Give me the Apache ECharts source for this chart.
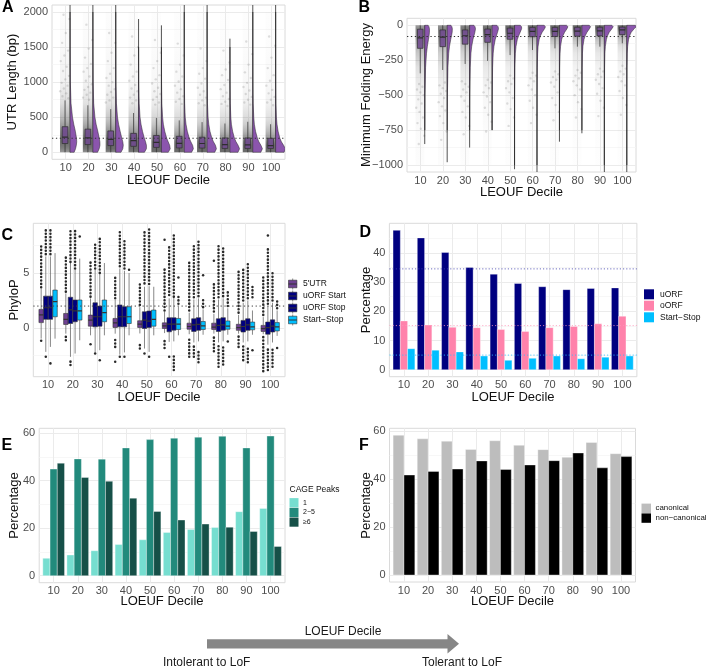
<!DOCTYPE html>
<html>
<head>
<meta charset="utf-8">
<title>LOEUF deciles</title>
<script src="https://cdn.jsdelivr.net/npm/echarts@6.0.0/dist/echarts.min.js"></script>
<style>
html,body{margin:0;padding:0;background:#ffffff;}
#chart{width:708px;height:672px;}
</style>
</head>
<body>
<div id="chart"></div>
<script>
// ================= DATA =================
const deciles = [10, 20, 30, 40, 50, 60, 70, 80, 90, 100];

// ---- A: 5'UTR length ----
const utrTicks = [0, 500, 1000, 1500, 2000];
const utrMinorTicks = [250, 750, 1250, 1750];
const utrLevels = [0, 50, 100, 150, 200, 300, 400, 500, 700, 1000, 1500, 2000];
const utrDensity = [
  [0.42, 0.56, 0.64, 0.68, 0.66, 0.54, 0.38, 0.25, 0.10, 0.030, 0.010, 0.004],
  [0.48, 0.64, 0.72, 0.71, 0.65, 0.50, 0.33, 0.21, 0.08, 0.025, 0.008, 0.003],
  [0.54, 0.72, 0.77, 0.72, 0.62, 0.45, 0.29, 0.18, 0.07, 0.020, 0.007, 0.003],
  [0.60, 0.80, 0.80, 0.71, 0.59, 0.40, 0.25, 0.15, 0.06, 0.018, 0.006, 0.002],
  [0.70, 0.90, 0.84, 0.69, 0.54, 0.34, 0.20, 0.12, 0.045, 0.014, 0.005, 0.002],
  [0.75, 0.93, 0.85, 0.67, 0.51, 0.31, 0.18, 0.10, 0.040, 0.013, 0.005, 0.002],
  [0.78, 0.95, 0.85, 0.65, 0.49, 0.29, 0.17, 0.10, 0.035, 0.012, 0.004, 0.002],
  [0.82, 0.98, 0.83, 0.62, 0.46, 0.27, 0.15, 0.09, 0.030, 0.010, 0.004, 0.001],
  [0.82, 0.98, 0.83, 0.62, 0.47, 0.28, 0.16, 0.10, 0.035, 0.012, 0.005, 0.002],
  [0.86, 1.00, 0.81, 0.59, 0.43, 0.25, 0.14, 0.08, 0.030, 0.010, 0.004, 0.002]
];
// [lower whisker, Q1, median, Q3, upper whisker]
const utrBox = [
  [0, 125, 215, 365, 740],
  [0, 110, 205, 330, 670],
  [0, 95, 185, 305, 615],
  [0, 85, 165, 270, 560],
  [0, 70, 140, 240, 490],
  [0, 62, 128, 228, 455],
  [0, 60, 125, 215, 430],
  [0, 55, 110, 205, 410],
  [0, 55, 105, 205, 435],
  [0, 55, 95, 200, 400]
];
const utrMax = [2600, 2450, 2300, 1900, 1810, 2400, 2250, 1620, 2700, 2500];
const utrTail = [
  [1960, 1900, 1700, 1560, 1450, 1380, 1300, 1220, 1160, 1090, 1040, 990, 950, 910, 870, 840, 800, 770],
  [1820, 1600, 1480, 1350, 1260, 1200, 1150, 1080, 1020, 970, 930, 890, 850, 820, 780, 750],
  [1700, 1560, 1420, 1300, 1200, 1120, 1060, 1000, 950, 900, 860, 820, 780, 740, 710],
  [1650, 1500, 1380, 1250, 1150, 1080, 1020, 960, 910, 870, 820, 780, 740, 700],
  [1600, 1420, 1300, 1200, 1100, 1040, 980, 920, 870, 830, 790, 750, 710, 680],
  [1550, 1380, 1250, 1150, 1080, 1010, 950, 900, 850, 800, 760, 720, 690],
  [1480, 1300, 1200, 1120, 1050, 980, 920, 870, 820, 780, 740, 700, 670],
  [1450, 1280, 1180, 1100, 1030, 960, 900, 850, 800, 760, 720, 690, 660],
  [1580, 1400, 1250, 1140, 1060, 990, 930, 880, 830, 790, 750, 710, 680],
  [1650, 1520, 1350, 1200, 1100, 1020, 950, 890, 840, 790, 750, 710, 670]
];
const utrRef = 200;

// ---- B: minimum folding energy ----
const mfeTicks = [0, -250, -500, -750, -1000];
const mfeMinorTicks = [-125, -375, -625, -875];
const mfeLevels = [0, -10, -25, -50, -75, -100, -150, -200, -300, -500, -750, -1000];
const mfeDensity = [
  [0.36, 0.45, 0.50, 0.50, 0.46, 0.40, 0.28, 0.19, 0.090, 0.025, 0.008, 0.003],
  [0.40, 0.50, 0.55, 0.53, 0.46, 0.38, 0.25, 0.16, 0.080, 0.020, 0.007, 0.003],
  [0.45, 0.57, 0.62, 0.56, 0.46, 0.36, 0.22, 0.14, 0.065, 0.018, 0.006, 0.002],
  [0.50, 0.64, 0.68, 0.58, 0.46, 0.34, 0.20, 0.12, 0.055, 0.015, 0.005, 0.002],
  [0.60, 0.75, 0.75, 0.60, 0.44, 0.30, 0.16, 0.09, 0.040, 0.012, 0.004, 0.002],
  [0.75, 0.90, 0.80, 0.55, 0.37, 0.24, 0.12, 0.07, 0.030, 0.010, 0.004, 0.002],
  [0.75, 0.90, 0.80, 0.55, 0.37, 0.24, 0.12, 0.07, 0.030, 0.010, 0.004, 0.002],
  [0.78, 0.92, 0.80, 0.54, 0.35, 0.23, 0.11, 0.06, 0.028, 0.009, 0.003, 0.001],
  [0.80, 0.94, 0.80, 0.52, 0.34, 0.22, 0.11, 0.06, 0.028, 0.009, 0.003, 0.001],
  [0.90, 1.00, 0.78, 0.47, 0.30, 0.19, 0.09, 0.05, 0.022, 0.007, 0.003, 0.001]
];
const mfeBox = [
  [-344, -165, -90, -28, 0],
  [-320, -153, -85, -33, 0],
  [-277, -135, -75, -33, 0],
  [-255, -122, -67, -27, 0],
  [-213, -100, -57, -20, 0],
  [-177, -82, -44, -15, 0],
  [-165, -80, -43, -15, 0],
  [-153, -78, -42, -14, 0],
  [-153, -76, -40, -14, 0],
  [-129, -67, -33, -13, 0]
];
const mfeMin = [-850, -980, -875, -750, -1030, -1200, -833, -773, -1200, -1200];
const mfeTail = [
  [-850, -790, -740, -700, -660, -620, -590, -560, -530, -500, -480, -460, -440, -420],
  [-820, -760, -700, -650, -610, -580, -550, -520, -490, -470, -450, -430, -410],
  [-780, -720, -660, -620, -580, -540, -510, -480, -460, -440, -420, -400],
  [-760, -690, -640, -590, -550, -510, -480, -450, -430, -410, -390],
  [-720, -660, -600, -560, -520, -480, -450, -420, -400, -380, -360],
  [-700, -640, -590, -540, -500, -460, -430, -400, -380, -360, -340],
  [-680, -620, -570, -520, -480, -440, -410, -390, -370, -350, -330],
  [-660, -600, -550, -500, -460, -430, -400, -380, -360, -340, -320],
  [-650, -590, -540, -490, -450, -420, -390, -370, -350, -330, -310],
  [-640, -570, -520, -470, -430, -400, -370, -350, -330, -310, -290]
];
const mfeRef = -80;

// ---- C: PhyloP ----
const phyloTicks = [0, 5];
const phyloMinorTicks = [-2.5, 2.5, 7.5];
const phyloGroups = ["5'UTR", 'uORF Start', 'uORF Stop', 'Start\u2212Stop'];
const phylo5UTR = [
  [-0.95, 0.5, 1.2, 1.7, 3.6], [-0.5, 0.33, 0.8, 1.33, 3.15], [-0.65, 0.18, 0.73, 1.18, 2.7],
  [-0.5, 0.06, 0.48, 0.88, 2.55], [-0.48, 0.06, 0.36, 0.67, 1.9], [-0.45, -0.03, 0.21, 0.48, 1.48],
  [-0.55, -0.1, 0.15, 0.45, 1.4], [-0.5, -0.12, 0.1, 0.45, 1.3], [-0.5, -0.2, 0.05, 0.35, 1.2],
  [-0.55, -0.3, -0.05, 0.25, 1.0]
];
const phyloStart = [
  [-2.15, 0.8, 1.85, 2.9, 6.5], [-2.6, 0.42, 1.65, 2.8, 5.9], [-2.2, 0.12, 1.03, 2.3, 5.3],
  [-2.4, 0.12, 1.03, 2.1, 5.4], [-1.85, -0.03, 0.73, 1.48, 3.75], [-1.25, -0.33, 0.36, 0.94, 2.7],
  [-1.3, -0.3, 0.3, 0.85, 2.6], [-1.3, -0.3, 0.25, 0.85, 2.6], [-1.3, -0.35, 0.15, 0.7, 2.3],
  [-1.5, -0.55, 0.05, 0.55, 2.0]
];
const phyloStop = [
  [-1.7, 0.8, 1.85, 2.9, 6.5], [-2.3, 0.58, 1.57, 2.55, 5.3], [-2.0, 0.18, 1.03, 2.0, 4.9],
  [-2.2, 0.12, 1.03, 1.94, 5.2], [-2.15, 0.06, 0.64, 1.55, 3.8], [-1.2, -0.18, 0.36, 0.94, 2.8],
  [-1.2, -0.2, 0.35, 0.95, 2.7], [-1.2, -0.18, 0.3, 0.95, 2.7], [-1.2, -0.2, 0.3, 0.85, 2.5],
  [-1.3, -0.35, 0.18, 0.75, 2.3]
];
const phyloStartStop = [
  [-0.95, 1.03, 2.4, 3.45, 6.8], [-1.1, 0.73, 1.57, 2.55, 6.3], [-0.65, 0.58, 1.4, 2.55, 5.9],
  [-0.65, 0.42, 1.03, 1.94, 5.0], [-0.65, 0.18, 0.8, 1.64, 3.75], [-0.65, -0.12, 0.36, 0.88, 1.94],
  [-0.6, -0.12, 0.2, 0.6, 1.7], [-0.6, -0.1, 0.18, 0.65, 1.8], [-0.6, -0.15, 0.12, 0.55, 1.6],
  [-0.7, -0.25, 0.12, 0.5, 1.6]
];
// outlier runs [from, to] (a single point when from == to)
const phylo5UTROut = [
  [[3.7, 7.5], [-1.15, -1.15]], [[3.3, 6.5], [-1.1, -0.65]], [[2.85, 6.2], [-1.45, -1.45]],
  [[2.7, 4.8], [-1.7, -0.95], [-3.05, -3.05]], [[2.1, 4.2], [-1.85, -1.25]], [[1.6, 5.5], [8.0, 8.0], [-1.8, -1.0]],
  [[1.6, 6.0], [-2.6, -0.8]], [[1.5, 4.0], [6.1, 6.1], [-2.1, -0.8]], [[1.4, 5.4], [-1.7, -0.7]],
  [[1.2, 4.6], [-3.9, -0.8]]
];
const phyloStartOut = [
  [[6.7, 9.0], [-2.6, -2.6]], [[6.0, 9.0], [-3.35, -2.9]], [[5.4, 7.7], [-2.3, -2.3]],
  [[5.6, 8.9], [-2.6, -2.6]], [[4.05, 8.9], [-2.3, -2.0]], [[3.0, 7.4], [-2.6, -2.3]],
  [[2.8, 7.7], [-2.6, -1.5]], [[2.8, 7.5], [-3.5, -1.6]], [[2.5, 5.5], [-2.9, -1.5]],
  [[2.2, 7.2], [8.4, 8.4], [-3.8, -1.7]]
];
const phyloStopOut = [
  [[6.7, 9.0], [-3.2, -3.0]], [[5.4, 9.0]], [[5.0, 8.3], [-2.9, -2.9]],
  [[5.4, 8.0], [-2.6, -2.6]], [[4.0, 9.0], [-2.6, -2.3]], [[2.85, 8.5], [-3.8, -2.3]],
  [[2.9, 8.0], [-3.1, -1.9]], [[2.9, 7.5], [-3.3, -1.7]], [[2.7, 5.8], [-3.1, -1.7]],
  [[2.5, 5.2], [-3.5, -1.8]]
];
const phyloStartStopOut = [
  [], [[8.3, 8.3]], [], [[5.3, 5.3]], [], [[2.2, 2.9], [4.6, 4.6]],
  [[1.9, 2.6], [4.8, 4.8]], [[2.0, 3.5], [-1.2, -1.2]], [[2.8, 3.8], [-2.0, -2.0]], [[1.8, 2.7], [-1.8, -1.6]]
];
const phyloRef = 2;

// ---- D: ORF percentages ----
const orfTicks = [0, 10, 20, 30, 40];
const orfMinorTicks = [5, 15, 25, 35, 45];
const orfGroups = ['uORF', 'oORF', 'Start\u2212Stop'];
const uorfPct = [47.7, 45.1, 40.1, 35.0, 32.7, 29.5, 28.4, 27.4, 27.8, 28.0];
const oorfPct = [16.7, 15.3, 14.5, 14.4, 13.75, 13.1, 14.4, 14.8, 15.7, 18.3];
const startStopPct = [7.2, 6.7, 6.1, 4.7, 3.2, 3.9, 4.7, 3.75, 4.3, 4.7];
const orfRef = [34.5, 15.1, 5.0];

// ---- E: CAGE peaks ----
const pctTicks = [0, 20, 40, 60];
const pctMinorTicks = [10, 30, 50];
const cageGroups = ['1', '2\u22125', '\u22656'];
const cage1 = [7.3, 8.7, 10.5, 13.1, 15.1, 18.2, 19.4, 20.3, 26.9, 28.3];
const cage2to5 = [44.8, 49.1, 49.0, 53.7, 57.2, 57.8, 58.2, 58.6, 53.7, 58.7];
const cage6plus = [47.3, 41.3, 39.7, 32.6, 27.0, 23.4, 21.7, 20.4, 18.6, 12.3];

// ---- F: canonical vs non-canonical ----
const tssGroups = ['canonical', 'non\u2212canonical'];
const canonicalPct = [58.3, 56.8, 55.8, 52.4, 56.0, 54.1, 52.3, 49.1, 55.3, 50.6];
const nonCanonicalPct = [41.7, 43.2, 44.2, 47.6, 44.0, 45.9, 47.7, 50.9, 44.7, 49.4];

// ================= LAYOUT / STYLE =================
const FONT = '"Liberation Sans", Arial, Helvetica, sans-serif';
const AX_TXT = '#4d4d4d';
const GRID_MAJOR = '#ebebeb';
const GRID_MINOR = '#f4f4f4';
const PURPLE_V = '#8b55ad';
const PURPLE_B = 'rgba(112,74,142,0.88)';
const C_COLORS = ['#6e4191', '#000080', '#000080', '#00bfff'];
const D_COLORS = ['#000080', '#ff82ab', '#00bfff'];
const D_REF_COLORS = ['rgba(60,60,170,0.75)', 'rgba(255,150,185,0.75)', 'rgba(40,190,255,0.8)'];
const E_COLORS = ['#76ded0', '#228a7c', '#165048'];
const F_COLORS = ['#bdbdbd', '#000000'];

const GRIDS = [
  { left: 52, top: 5, width: 233, height: 154.3 },
  { left: 407, top: 18.3, width: 229, height: 153.7 },
  { left: 33.3, top: 223.3, width: 251.7, height: 153.4 },
  { left: 389.4, top: 223.3, width: 247.5, height: 153.4 },
  { left: 39.2, top: 428.3, width: 245.8, height: 154.4 },
  { left: 389.5, top: 428.3, width: 246, height: 153.7 }
];
const YCFG = [
  { min: -100, max: 2100, major: utrTicks, minor: utrMinorTicks },
  { min: -1050, max: 50, major: mfeTicks, minor: mfeMinorTicks },
  { min: -4.4, max: 9.5, major: phyloTicks, minor: phyloMinorTicks },
  { min: -2.39, max: 50.1, major: orfTicks, minor: orfMinorTicks },
  { min: -2.94, max: 61.96, major: pctTicks, minor: pctMinorTicks },
  { min: -2.92, max: 61.2, major: pctTicks, minor: pctMinorTicks }
];
const fmt = v => (v < 0 ? '\u2212' + Math.abs(v) : String(v));

const grids = GRIDS.map(g => Object.assign({ show: true, borderColor: '#dadada', borderWidth: 1, backgroundColor: 'transparent' }, g));
const xAxes = GRIDS.map((g, i) => ({
  type: 'value', gridIndex: i, min: 4, max: 106,
  axisLine: { show: false },
  axisTick: { show: false, customValues: deciles },
  axisLabel: { customValues: deciles, formatter: fmt, color: AX_TXT, fontSize: 11, fontFamily: FONT, margin: 3 },
  splitLine: { show: true, lineStyle: { color: GRID_MAJOR, width: 1 } }
}));
const yAxes = [];
YCFG.forEach((c, i) => {
  yAxes.push({
    type: 'value', gridIndex: i, min: c.min, max: c.max, position: 'left',
    axisLine: { show: false },
    axisTick: { show: false, customValues: c.major },
    axisLabel: { customValues: c.major, formatter: fmt, color: AX_TXT, fontSize: 11, fontFamily: FONT, margin: 4 },
    splitLine: { show: true, lineStyle: { color: GRID_MAJOR, width: 1 } }
  });
  yAxes.push({
    type: 'value', gridIndex: i, min: c.min, max: c.max, position: 'left',
    axisLine: { show: false },
    axisTick: { show: false, customValues: c.minor },
    axisLabel: { show: false },
    splitLine: { show: true, lineStyle: { color: GRID_MINOR, width: 0.7 } }
  });
});

// ================= SERIES BUILDERS =================
function base(gi, z) {
  return { type: 'custom', coordinateSystem: 'cartesian2d', xAxisIndex: gi, yAxisIndex: 2 * gi, clip: true, silent: true, z: z || 2 };
}
function bandPx(api) { return api.size([10, 0])[0]; }

function cloudSeries(gi, levels, density, dxL, dxR) {
  return Object.assign(base(gi, 2), {
    data: deciles.map((d, i) => [d, i]),
    renderItem(p, api) {
      const d = api.value(0), i = api.value(1), band = bandPx(api);
      const cx = api.coord([d, 0])[0];
      const ys = levels.map(l => api.coord([d, l])[1]);
      const y0 = Math.min.apply(null, ys), y1 = Math.max.apply(null, ys);
      const stops = levels.map((l, k) => ({
        offset: (ys[k] - y0) / (y1 - y0),
        color: 'rgba(80,80,80,' + Math.min(0.85, 1.1 * Math.pow(density[i][k], 0.75)).toFixed(3) + ')'
      })).sort((a, b) => a.offset - b.offset);
      return { type: 'rect', shape: { x: cx + dxL * band, y: y0, width: (dxR - dxL) * band, height: y1 - y0 },
        style: { fill: new echarts.graphic.LinearGradient(0, 0, 0, 1, stops) } };
    }
  });
}
function tailSeries(gi, tails, dxL, dxR) {
  const data = [];
  tails.forEach((arr, i) => arr.forEach((v, j) => data.push([deciles[i], v, j])));
  return Object.assign(base(gi, 2), {
    data,
    renderItem(p, api) {
      const band = bandPx(api);
      const pt = api.coord([api.value(0), api.value(1)]);
      const f = (api.value(2) * 0.618034 + 0.37) % 1;
      return { type: 'circle', shape: { cx: pt[0] + (dxL + f * (dxR - dxL)) * band, cy: pt[1], r: 1.2 },
        style: { fill: 'rgba(110,110,110,0.22)' } };
    }
  });
}
function distBoxSeries(gi, boxes, fill, dx, bw) {
  return Object.assign(base(gi, 3), {
    data: deciles.map((d, i) => [d].concat(boxes[i])),
    renderItem(p, api) {
      const d = api.value(0), band = bandPx(api);
      const cx = api.coord([d, 0])[0] + dx * band;
      const y = k => api.coord([d, api.value(k)])[1];
      const lo = y(1), q1 = y(2), md = y(3), q3 = y(4), hi = y(5), w = bw * band;
      const st = '#2e2e2e';
      return { type: 'group', children: [
        { type: 'line', shape: { x1: cx, y1: lo, x2: cx, y2: q1 }, style: { stroke: st, lineWidth: 0.7 } },
        { type: 'line', shape: { x1: cx, y1: q3, x2: cx, y2: hi }, style: { stroke: st, lineWidth: 0.7 } },
        { type: 'rect', shape: { x: cx - w / 2, y: Math.min(q1, q3), width: w, height: Math.abs(q1 - q3) }, style: { fill, stroke: st, lineWidth: 0.7 } },
        { type: 'line', shape: { x1: cx - w / 2, y1: md, x2: cx + w / 2, y2: md }, style: { stroke: st, lineWidth: 1.2 } }
      ] };
    }
  });
}
function violinSeries(gi, levels, density, extreme, fill, dx, maxW) {
  return Object.assign(base(gi, 4), {
    data: deciles.map((d, i) => [d, i]),
    renderItem(p, api) {
      const d = api.value(0), i = api.value(1), band = bandPx(api);
      const bx = api.coord([d, 0])[0] + dx * band;
      const lim = Math.abs(extreme[i]);
      const pts = [];
      levels.forEach((l, k) => { if (Math.abs(l) <= lim) pts.push([bx + density[i][k] * maxW * band, api.coord([d, l])[1]]); });
      const yStart = api.coord([d, levels[0]])[1];
      const yEnd = api.coord([d, extreme[i]])[1];
      const poly = [[bx, yStart]].concat(pts, [[bx, pts[pts.length - 1][1]]]);
      return { type: 'group', children: [
        { type: 'line', shape: { x1: bx, y1: yStart, x2: bx, y2: yEnd }, style: { stroke: '#262626', lineWidth: 0.8 } },
        { type: 'polygon', shape: { points: poly }, style: { fill, stroke: '#262626', lineWidth: 0.5 } }
      ] };
    }
  });
}
function refSeries(gi, value, color, width, dash) {
  return Object.assign(base(gi, 6), {
    data: [[55, value]],
    renderItem(p, api) {
      const a = api.coord([4, api.value(1)]), b = api.coord([106, api.value(1)]);
      return { type: 'line', shape: { x1: a[0], y1: a[1], x2: b[0], y2: b[1] }, style: { stroke: color, lineWidth: width, lineDash: dash } };
    }
  });
}
function phyloSeries(name, boxes, outs, g, fill) {
  const gw = 0.75, n = 4;
  return Object.assign(base(2, 3 + g * 0.01), {
    name,
    data: deciles.map((d, i) => [d].concat(boxes[i], [i])),
    renderItem(p, api) {
      const d = api.value(0), i = api.value(6), band = bandPx(api);
      const cx = api.coord([d, 0])[0] + (-gw / 2 + (g + 0.5) * gw / n) * band;
      const w = gw / n * band * 0.96;
      const y = v => api.coord([d, v])[1];
      const lo = y(api.value(1)), q1 = y(api.value(2)), md = y(api.value(3)), q3 = y(api.value(4)), hi = y(api.value(5));
      const st = '#333333';
      const kids = [
        { type: 'line', shape: { x1: cx, y1: lo, x2: cx, y2: q1 }, style: { stroke: '#555', lineWidth: 0.7 } },
        { type: 'line', shape: { x1: cx, y1: q3, x2: cx, y2: hi }, style: { stroke: '#555', lineWidth: 0.7 } },
        { type: 'rect', shape: { x: cx - w / 2, y: Math.min(q1, q3), width: w, height: Math.abs(q1 - q3) }, style: { fill, stroke: st, lineWidth: 0.6 } },
        { type: 'line', shape: { x1: cx - w / 2, y1: md, x2: cx + w / 2, y2: md }, style: { stroke: st, lineWidth: 1.2 } }
      ];
      outs[i].forEach(r => {
        if (r[0] === r[1]) {
          kids.push({ type: 'circle', shape: { cx, cy: y(r[0]), r: 1.25 }, style: { fill: '#2a2a2a' } });
        } else {
          kids.push({ type: 'line', shape: { x1: cx, y1: y(r[0]), x2: cx, y2: y(r[1]) },
            style: { stroke: '#2a2a2a', lineWidth: 2.5, lineCap: 'round', lineDash: [0.1, 3.3] } });
        }
      });
      return { type: 'group', children: kids };
    }
  });
}
function barSeries(gi, name, values, g, n, color, gw) {
  return Object.assign(base(gi, 3), {
    name,
    data: deciles.map((d, i) => [d, values[i]]),
    renderItem(p, api) {
      const d = api.value(0), v = api.value(1), band = bandPx(api);
      const w = gw / n * band;
      const p0 = api.coord([d, 0]), p1 = api.coord([d, v]);
      const x = p0[0] - gw / 2 * band + g * w;
      return { type: 'rect', shape: { x, y: p1[1], width: w, height: p0[1] - p1[1] },
        style: { fill: color, stroke: 'rgba(255,255,255,0.7)', lineWidth: 0.5 } };
    }
  });
}

const DOT = [1.3, 2.6];
const series = [
  // A
  cloudSeries(0, utrLevels, utrDensity, -0.25, 0.17),
  tailSeries(0, utrTail, -0.25, 0.17),
  distBoxSeries(0, utrBox, PURPLE_B, -0.03, 0.25),
  violinSeries(0, utrLevels, utrDensity, utrMax, PURPLE_V, 0.19, 0.43),
  refSeries(0, utrRef, '#333', 1.1, DOT),
  // B
  cloudSeries(1, mfeLevels, mfeDensity, -0.22, 0.17),
  tailSeries(1, mfeTail, -0.22, 0.17),
  distBoxSeries(1, mfeBox, PURPLE_B, -0.01, 0.25),
  violinSeries(1, mfeLevels, mfeDensity, mfeMin, PURPLE_V, 0.19, 0.42),
  refSeries(1, mfeRef, '#333', 1.1, DOT),
  // C
  phyloSeries(phyloGroups[0], phylo5UTR, phylo5UTROut, 0, C_COLORS[0]),
  phyloSeries(phyloGroups[1], phyloStart, phyloStartOut, 1, C_COLORS[1]),
  phyloSeries(phyloGroups[2], phyloStop, phyloStopOut, 2, C_COLORS[2]),
  phyloSeries(phyloGroups[3], phyloStartStop, phyloStartStopOut, 3, C_COLORS[3]),
  refSeries(2, phyloRef, '#444', 1, DOT),
  // D
  barSeries(3, orfGroups[0], uorfPct, 0, 3, D_COLORS[0], 0.9),
  barSeries(3, orfGroups[1], oorfPct, 1, 3, D_COLORS[1], 0.9),
  barSeries(3, orfGroups[2], startStopPct, 2, 3, D_COLORS[2], 0.9),
  refSeries(3, orfRef[0], D_REF_COLORS[0], 1, [1.2, 2]),
  refSeries(3, orfRef[1], D_REF_COLORS[1], 1, [1.2, 2]),
  refSeries(3, orfRef[2], D_REF_COLORS[2], 1, [1.2, 2]),
  // E
  barSeries(4, cageGroups[0], cage1, 0, 3, E_COLORS[0], 0.9),
  barSeries(4, cageGroups[1], cage2to5, 1, 3, E_COLORS[1], 0.9),
  barSeries(4, cageGroups[2], cage6plus, 2, 3, E_COLORS[2], 0.9),
  // F
  barSeries(5, tssGroups[0], canonicalPct, 0, 2, F_COLORS[0], 0.9),
  barSeries(5, tssGroups[1], nonCanonicalPct, 1, 2, F_COLORS[1], 0.9)
];

// ================= TEXT / LEGENDS / ARROW =================
function txt(text, x, y, o) {
  o = o || {};
  const align = o.align || 'center', va = o.va || 'middle';
  return { type: 'text', x, y, rotation: o.rot || 0, silent: true, z: 100,
    style: { text, fontSize: o.size || 13, fontFamily: o.family || FONT, fontWeight: o.weight || 'normal',
      fill: o.color || '#111', align, verticalAlign: va, textAlign: align, textVerticalAlign: va } };
}
function sw(x, y, w, h, fill, stroke) {
  return { type: 'rect', silent: true, z: 100, shape: { x, y, width: w, height: h },
    style: { fill, stroke: stroke || null, lineWidth: stroke ? 0.6 : 0 } };
}
const R90 = Math.PI / 2;
const gfx = [];
// panel letters
const LET = { size: 16, weight: 'bold', align: 'left', color: '#000' };
gfx.push(txt('A', 2, 8, LET), txt('B', 358.5, 8, LET), txt('C', 1.5, 236, LET),
         txt('D', 359.5, 233, LET), txt('E', 1.5, 446, LET), txt('F', 359, 446, LET));
// axis titles
gfx.push(txt('UTR Length (bp)', 12, 82, { rot: R90 }));
gfx.push(txt('LEOUF Decile', 168.5, 180, {}));
gfx.push(txt('Minimum Folding Energy', 366, 95, { rot: R90 }));
gfx.push(txt('LEOUF Decile', 521.5, 192.7, {}));
gfx.push(txt('PhyloP', 14, 300, { rot: R90 }));
gfx.push(txt('LOEUF Decile', 159, 397, {}));
gfx.push(txt('Percentage', 366, 300, { rot: R90 }));
gfx.push(txt('LOEUF Decile', 513, 397, {}));
gfx.push(txt('Percentage', 14, 505.5, { rot: R90 }));
gfx.push(txt('LOEUF Decile', 162, 601.7, {}));
gfx.push(txt('Percentage', 366, 505.5, { rot: R90 }));
gfx.push(txt('LOEUF Decile', 512.5, 601.7, {}));
// legend C
[284, 296, 308, 320].forEach((cy, k) => {
  gfx.push({ type: 'line', silent: true, z: 100, shape: { x1: 292.7, y1: cy - 5.5, x2: 292.7, y2: cy + 5.5 }, style: { stroke: '#444', lineWidth: 0.6 } });
  gfx.push(sw(288.5, cy - 3.8, 8.4, 7.6, C_COLORS[k], '#333'));
  gfx.push({ type: 'line', silent: true, z: 101, shape: { x1: 288.5, y1: cy, x2: 296.9, y2: cy }, style: { stroke: '#333', lineWidth: 1 } });
  gfx.push(txt(phyloGroups[k], 303, cy, { size: 8.5, align: 'left' }));
});
// legend D
[294.3, 305.7, 317.3].forEach((cy, k) => {
  gfx.push(sw(644, cy - 5, 10, 10, D_COLORS[k]));
  gfx.push(txt(orfGroups[k], 660, cy, { size: 8.5, align: 'left' }));
});
// legend E
gfx.push(txt('CAGE Peaks', 289.5, 490, { size: 8.5, align: 'left' }));
[502.7, 512.4, 522.1].forEach((cy, k) => {
  gfx.push(sw(289.5, cy - 4.6, 9, 9.2, E_COLORS[k]));
  gfx.push(txt(cageGroups[k], 303, cy, { size: 7, align: 'left' }));
});
// legend F
[508.3, 518.1].forEach((cy, k) => {
  gfx.push(sw(641.5, cy - 4.7, 9.5, 9.4, F_COLORS[k]));
  gfx.push(txt(tssGroups[k], 655.5, cy, { size: 7.9, align: 'left' }));
});
// bottom arrow
gfx.push({ type: 'polygon', silent: true, z: 100,
  shape: { points: [[207, 639.3], [447.5, 639.3], [447.5, 634], [459, 643.8], [447.5, 653.5], [447.5, 648.4], [207, 648.4]] },
  style: { fill: '#868686' } });
gfx.push(txt('LOEUF Decile', 343, 632, { size: 12, color: '#1a1a1a' }));
gfx.push(txt('Intolerant to LoF', 163, 663, { size: 12, align: 'left', color: '#1a1a1a' }));
gfx.push(txt('Tolerant to LoF', 422, 663, { size: 12, align: 'left', color: '#1a1a1a' }));

const chart = echarts.init(document.getElementById('chart'), null, { renderer: 'canvas', width: 708, height: 672 });
chart.setOption({
  animation: false,
  backgroundColor: '#ffffff',
  grid: grids,
  xAxis: xAxes,
  yAxis: yAxes,
  series,
  graphic: { elements: gfx }
});
</script>
</body>
</html>
